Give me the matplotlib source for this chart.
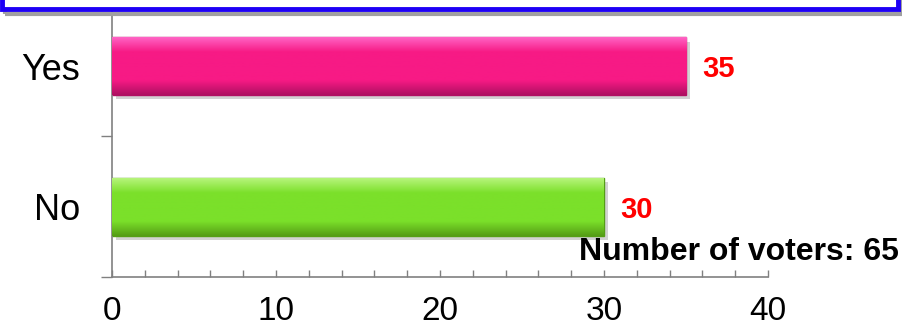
import numpy as np
import matplotlib.pyplot as plt
from matplotlib.patches import Rectangle
from matplotlib.ticker import MultipleLocator, FixedLocator
from matplotlib.colors import LinearSegmentedColormap

plt.rcParams['font.family'] = ['Liberation Sans', 'DejaVu Sans']

# encuesta si / no
respuestas = ['No', 'Yes']
votos = [30, 35]
colores = [('#B6F47A', '#7BE02A', '#559E16'),   # verde
           ('#FF63C4', '#F71A85', '#B01062')]   # rosa
alto = 0.41

fig = plt.figure(figsize=(9.02, 3.27), dpi=100)
ax = fig.add_axes([112/902, 1 - 277/327, (768 - 112)/902, 277/327])
ax.set_xlim(0, 40)
ax.set_ylim(-0.5, 1 + 66/140)

for i, (v, c) in enumerate(zip(votos, colores)):
    # sombra
    ax.barh(i - 0.03, v, height=alto, left=0.25, color='#c0c0c0', alpha=0.7, zorder=1)
    b = ax.barh(i, v, height=alto, color=c[1], edgecolor=c[2], linewidth=1.0, zorder=2)[0]
    cmap = LinearSegmentedColormap.from_list('bisel', [c[2], c[1], c[1], c[1], c[0]])
    grad = np.linspace(0, 1, 64).reshape(-1, 1)
    im = ax.imshow(grad, cmap=cmap, aspect='auto', origin='lower',
                   extent=(0, v, i - alto/2, i + alto/2), zorder=3)
    im.set_clip_path(b)
    ax.text(v + 1, i - 0.02, str(v), color='#FF0000', fontsize=21, fontweight='bold',
            va='center', ha='left', zorder=4)

for s in ['top', 'right']:
    ax.spines[s].set_visible(False)
for s in ['left', 'bottom']:
    ax.spines[s].set_color('#808080')
    ax.spines[s].set_linewidth(1.2)

ax.xaxis.set_major_locator(MultipleLocator(10))
ax.xaxis.set_minor_locator(MultipleLocator(2))
ax.tick_params(axis='x', which='both', direction='in', length=5, width=1, color='#808080',
               labelsize=24, pad=14)

ax.yaxis.set_major_locator(FixedLocator([-0.5, 0.5]))
ax.yaxis.set_minor_locator(FixedLocator([0, 1]))
ax.yaxis.set_major_formatter(plt.NullFormatter())
ax.yaxis.set_minor_formatter(plt.FixedFormatter(respuestas))
ax.tick_params(axis='y', which='major', direction='out', length=8, width=1, color='#808080')
ax.tick_params(axis='y', which='minor', length=0, labelsize=26, pad=23)

fig.text(0.996, 1 - 252/327, 'Number of voters: %d' % sum(votos), fontsize=23,
         fontweight='bold', ha='right', va='center')

# marco azul del titulo
fig.patches.append(Rectangle((0.006, 1 - 14/327), 0.994, 0.2, transform=fig.transFigure,
                             facecolor='none', edgecolor='#a0a0a0', linewidth=3, zorder=5))
fig.patches.append(Rectangle((0.0025, 1 - 9/327), 0.993, 0.2, transform=fig.transFigure,
                             facecolor='white', edgecolor='#1E00F5', linewidth=3.5, zorder=6))

fig.savefig('out.png', dpi=100)
